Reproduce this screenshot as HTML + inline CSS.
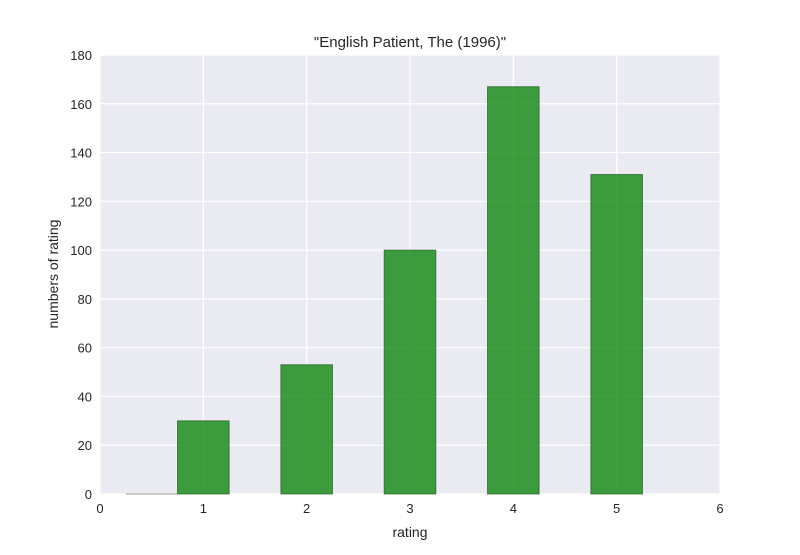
<!DOCTYPE html>
<html><head><meta charset="utf-8"><style>
body{margin:0;background:#fff;font-family:"Liberation Sans",Arial,sans-serif}
svg text{font-family:"Liberation Sans",Arial,sans-serif;fill:#262626}
</style></head><body>
<svg id="chart" width="800" height="550">
<rect x="100" y="55" width="620" height="439" fill="#EAEAF2"/>
<g id="grid"></g><g id="bars"></g><g id="ticks"></g>
<text x="410" y="47" text-anchor="middle" font-size="15">"English Patient, The (1996)"</text>
<text x="410" y="537" text-anchor="middle" font-size="14">rating</text>
<text x="58" y="274" text-anchor="middle" font-size="14" transform="rotate(-90 58 274)">numbers of rating</text>
</svg>
<script>
const categories=[0.5,1,2,3,4,5];
const counts=[0,30,53,100,167,131];
const xTicks=[0,1,2,3,4,5,6];
const yTicks=[0,20,40,60,80,100,120,140,160,180];
const NS="http://www.w3.org/2000/svg";
const L=100,R=720,T=55,B=494;
const xs=v=>L+(v-0)/6*(R-L);
const ys=v=>B-v/180*(B-T);
const grid=document.getElementById('grid'),bars=document.getElementById('bars'),ticks=document.getElementById('ticks');
function mk(tag,attrs,parent){const e=document.createElementNS(NS,tag);for(const k in attrs)e.setAttribute(k,attrs[k]);parent.appendChild(e);return e;}
xTicks.forEach(t=>{
 const g=mk('line',{x1:xs(t),x2:xs(t),y1:T,y2:B,stroke:'#fff','stroke-width':1.2},grid);
 
 
 const tx=mk('text',{x:xs(t),y:B+19,'text-anchor':'middle','font-size':13},ticks);tx.textContent=t;
 
 
});
yTicks.forEach(t=>{
 const g=mk('line',{x1:L,x2:R,y1:ys(t),y2:ys(t),stroke:'#fff','stroke-width':1.2},grid);
 
 
 const tx=mk('text',{x:L-8,y:ys(t)+5,'text-anchor':'end','font-size':13},ticks);tx.textContent=t;
 
 
});
categories.forEach((c,i)=>{
 const x0=xs(c-0.25),x1=xs(c+0.25),y=ys(counts[i]);
 const r=mk('rect',{x:x0,y:y,width:x1-x0,height:Math.max(B-y,0),fill:'rgba(0,128,0,0.75)',stroke:'rgba(20,80,20,0.6)','stroke-width':1},bars);
 
 
 if(counts[i]===0){const l=mk('line',{x1:x0,x2:x1,y1:B,y2:B,stroke:'#bbb','stroke-width':1.5},bars);
 
 }
});
</script>
</body></html>
